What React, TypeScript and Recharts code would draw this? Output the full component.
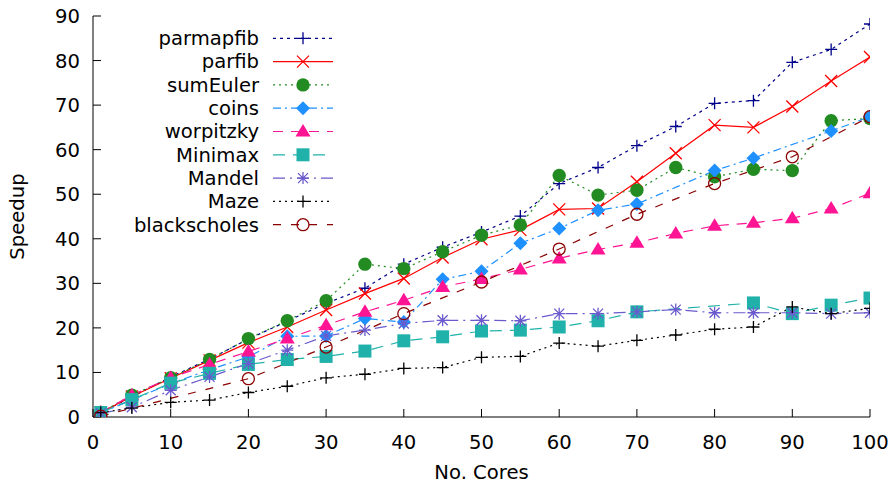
import React from 'react';
import { LineChart, Line, XAxis, YAxis, Legend } from 'recharts';

const cores = [1, 5, 10, 15, 20, 25, 30, 35, 40, 45, 50, 55, 60, 65, 70, 75, 80, 85, 90, 95, 100];
const xTicks = [0, 10, 20, 30, 40, 50, 60, 70, 80, 90, 100];
const yTicks = [0, 10, 20, 30, 40, 50, 60, 70, 80, 90];

const parmapfib = [1, 4.5, 9, 13, 17.5, 21.5, 25.5, 28.9, 34.3, 38.1, 41.5, 45.1, 52.4, 56, 60.9, 65.2, 70.4, 71, 79.6, 82.5, 88.2];
const parfib = [1, 4.6, 8.7, 12.7, 16.7, 20.2, 24, 27.7, 31.1, 35.8, 39.9, 42, 46.6, 46.8, 52.8, 59.2, 65.5, 65, 69.7, 75.4, 80.8];
const sumEuler = [1, 4.9, 8.8, 12.9, 17.6, 21.6, 26.1, 34.3, 33.3, 37.1, 40.8, 43.1, 54.2, 49.8, 50.9, 56, 53.9, 55.6, 55.3, 66.5, 67];
const coins = [1, 3.8, 7.5, 10.6, 13.5, 18.1, 18.2, 22.1, 21.3, 30.9, 32.7, 39, 42.3, 46.4, 47.8, null, 55.3, 58.1, null, 64.2, 67.4];
const worpitzky = [1, 4.9, 8.8, 11.8, 14.7, 17.6, 20.6, 23.6, 26.2, 29.2, 31, 33.1, 35.6, 37.6, 39.1, 41.2, 42.9, 43.6, 44.6, 46.8, 50.2];
const minimax = [1, 3.9, 7.6, 9.8, 11.8, 12.9, 13.6, 14.8, 17.1, 18, 19.3, 19.5, 20.2, 21.6, 23.6, null, null, 25.6, 23.2, 25.1, 26.7];
const mandel = [0.8, 2.2, 6, 9, 12, 15, 18.2, 19.5, 21, 21.7, 21.7, 21.6, 23.2, 23.2, 23.6, 24.1, 23.4, 23.4, 23.4, 23.2, 23.4];
const maze = [1, 2, 3.3, 3.8, 5.5, 6.9, 8.8, 9.6, 10.9, 11.1, 13.4, 13.6, 16.6, 15.9, 17.2, 18.4, 19.7, 20.2, 24.7, 23.2, 24.4];
const blackscholes = [0.2, null, null, null, 8.6, null, 15.7, null, 23.2, null, 30.3, null, 37.7, null, 45.5, null, 52.4, null, 58.4, null, 67.4];

type Kind = 'plus' | 'cross' | 'circle' | 'diamond' | 'triangle' | 'square' | 'star' | 'ocircle';

const seriesDefs: { key: string; name: string; values: (number | null)[]; color: string; dash?: string; kind: Kind }[] = [
  { key: 'parmapfib', name: 'parmapfib', values: parmapfib, color: '#00008b', dash: '3 4', kind: 'plus' },
  { key: 'parfib', name: 'parfib', values: parfib, color: '#ff0000', kind: 'cross' },
  { key: 'sumEuler', name: 'sumEuler', values: sumEuler, color: '#228b22', dash: '2 4', kind: 'circle' },
  { key: 'coins', name: 'coins', values: coins, color: '#1e90ff', dash: '8 4 2 4', kind: 'diamond' },
  { key: 'worpitzky', name: 'worpitzky', values: worpitzky, color: '#ff1493', dash: '10 8', kind: 'triangle' },
  { key: 'Minimax', name: 'Minimax', values: minimax, color: '#20b2aa', dash: '12 8', kind: 'square' },
  { key: 'Mandel', name: 'Mandel', values: mandel, color: '#6a5acd', dash: '12 5 2 5', kind: 'star' },
  { key: 'Maze', name: 'Maze', values: maze, color: '#000000', dash: '2 4', kind: 'plus' },
  { key: 'blackscholes', name: 'blackscholes', values: blackscholes, color: '#8b0000', dash: '8 10', kind: 'ocircle' },
];

const data = cores.map((c, i) => {
  const row: Record<string, number | null> = { x: c };
  seriesDefs.forEach((s) => {
    row[s.key] = s.values[i];
  });
  return row;
});

const FONT = '"DejaVu Sans", sans-serif';
const FS = 19.6;

function renderMarker(kind: Kind, cx: number, cy: number, color: string) {
  const sw = 1.3;
  switch (kind) {
    case 'plus':
      return <path d={`M${cx - 6},${cy}H${cx + 6}M${cx},${cy - 6}V${cy + 6}`} stroke={color} strokeWidth={sw} fill="none" />;
    case 'cross':
      return <path d={`M${cx - 6},${cy - 6}L${cx + 6},${cy + 6}M${cx - 6},${cy + 6}L${cx + 6},${cy - 6}`} stroke={color} strokeWidth={sw} fill="none" />;
    case 'circle':
      return <circle cx={cx} cy={cy} r={6.7} fill={color} />;
    case 'diamond':
      return <path d={`M${cx},${cy - 7}L${cx + 7},${cy}L${cx},${cy + 7}L${cx - 7},${cy}Z`} fill={color} />;
    case 'triangle':
      return <path d={`M${cx},${cy - 7.5}L${cx + 7.5},${cy + 5}L${cx - 7.5},${cy + 5}Z`} fill={color} />;
    case 'square':
      return <rect x={cx - 6.5} y={cy - 6.5} width={13} height={13} fill={color} />;
    case 'star':
      return (
        <path
          d={`M${cx - 6},${cy}H${cx + 6}M${cx},${cy - 6}V${cy + 6}M${cx - 5},${cy - 5}L${cx + 5},${cy + 5}M${cx - 5},${cy + 5}L${cx + 5},${cy - 5}`}
          stroke={color}
          strokeWidth={sw}
          fill="none"
        />
      );
    case 'ocircle':
      return <circle cx={cx} cy={cy} r={6} stroke={color} strokeWidth={sw} fill="none" />;
  }
  return null;
}

function makeDot(kind: Kind, color: string, key: string) {
  return (props: any) => {
    const { cx, cy, index, value } = props;
    if (cx == null || cy == null || value == null || (Array.isArray(value) && value[1] == null)) {
      return <g key={`${key}-${index}`} />;
    }
    return <g key={`${key}-${index}`}>{renderMarker(kind, cx, cy, color)}</g>;
  };
}

function LegendBox() {
  const textRight = 259;
  const lineStart = 273;
  const lineEnd = 333;
  const markX = 303;
  return (
    <svg width={894} height={240} style={{ display: 'block' }}>
      {seriesDefs.map((s, i) => {
        const y = 38.3 + 23.3 * i;
        return (
          <g key={s.key}>
            <text x={textRight} y={y + 6.8} textAnchor="end" fontFamily={FONT} fontSize={FS} fill="#000">
              {s.name}
            </text>
            <line x1={lineStart} x2={lineEnd} y1={y} y2={y} stroke={s.color} strokeWidth={1.2} strokeDasharray={s.dash} />
            {renderMarker(s.kind, markX, y, s.color)}
          </g>
        );
      })}
    </svg>
  );
}

export default function App() {
  const tickStyle = { fill: '#000', fontSize: FS, fontFamily: FONT };
  return (
    <div style={{ position: 'absolute', left: 0, top: 0, width: 894, height: 483, background: '#fff' }}>
      <LineChart width={894} height={483} data={data} margin={{ top: 16, right: 24, left: 0, bottom: 0 }}>
        <XAxis
          xAxisId="b"
          dataKey="x"
          type="number"
          domain={[0, 100]}
          ticks={xTicks}
          allowDataOverflow
          height={66}
          tickSize={-8}
          tickMargin={26}
          tick={tickStyle}
          axisLine={{ stroke: '#000', strokeWidth: 1 }}
          tickLine={{ stroke: '#000' }}
          label={{ value: 'No. Cores', position: 'insideBottom', offset: 4, fill: '#000', fontSize: FS, fontFamily: FONT }}
        />
        <XAxis
          xAxisId="t"
          orientation="top"
          dataKey="x"
          type="number"
          domain={[0, 100]}
          ticks={xTicks}
          allowDataOverflow
          height={0}
          tickSize={-8}
          tickFormatter={() => ''}
          axisLine={{ stroke: '#000', strokeWidth: 1 }}
          tickLine={{ stroke: '#000' }}
        />
        <YAxis
          yAxisId="l"
          type="number"
          domain={[0, 90]}
          ticks={yTicks}
          allowDataOverflow
          width={93}
          tickSize={-8}
          tickMargin={21}
          tick={tickStyle}
          axisLine={{ stroke: '#000', strokeWidth: 1 }}
          tickLine={{ stroke: '#000' }}
          label={{ value: 'Speedup', angle: -90, position: 'insideLeft', offset: 17, fill: '#000', fontSize: FS, fontFamily: FONT, style: { textAnchor: 'middle' } }}
        />
        <YAxis
          yAxisId="r"
          orientation="right"
          type="number"
          domain={[0, 90]}
          ticks={yTicks}
          allowDataOverflow
          width={0}
          tickSize={-8}
          tickFormatter={() => ''}
          axisLine={{ stroke: '#000', strokeWidth: 1 }}
          tickLine={{ stroke: '#000' }}
        />
        {seriesDefs.map((s) => (
          <Line
            key={s.key}
            xAxisId="b"
            yAxisId="l"
            dataKey={s.key}
            name={s.name}
            type="linear"
            stroke={s.color}
            strokeWidth={1.2}
            strokeDasharray={s.dash}
            connectNulls
            dot={makeDot(s.kind, s.color, s.key)}
            activeDot={false}
            isAnimationActive={false}
          />
        ))}
        <Legend
          layout="vertical"
          align="center"
          verticalAlign="middle"
          content={() => <LegendBox />}
          wrapperStyle={{ left: 0, top: 0, width: 894, height: 240, pointerEvents: 'none' }}
        />
      </LineChart>
    </div>
  );
}
